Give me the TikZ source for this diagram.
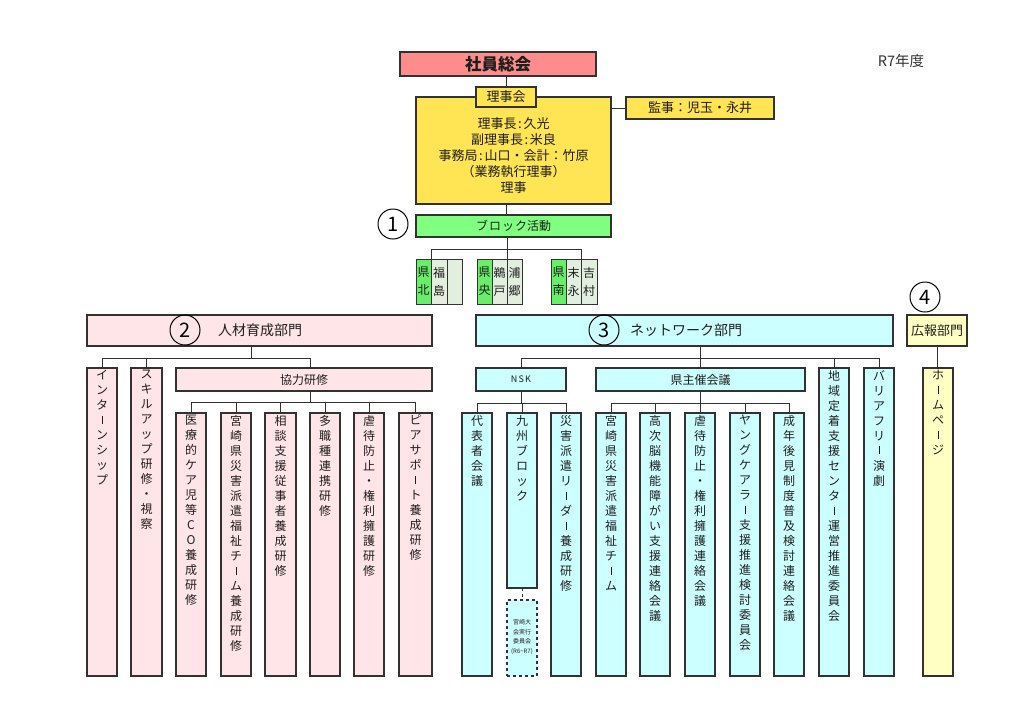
\documentclass[tikz,border=0pt]{standalone}
\usepackage{fontspec}
\setmainfont{Noto Sans CJK JP}
\usetikzlibrary{calc}
\definecolor{cTitle}{RGB}{255,140,140}
\definecolor{cYel}{RGB}{255,228,84}
\definecolor{cGrn}{RGB}{128,255,128}
\definecolor{cBG}{RGB}{104,238,104}
\definecolor{cBL}{RGB}{226,238,222}
\definecolor{cPink}{RGB}{255,228,232}
\definecolor{cCyan}{RGB}{204,255,255}
\definecolor{cLY}{RGB}{255,255,196}
\definecolor{cLine}{RGB}{50,50,50}
\definecolor{cTxt}{RGB}{30,30,30}
\long\def\VTgobble#1{}
\long\def\VTone#1{#1}
\def\VT#1{\VTfirst#1\relax}
\def\VTfirst#1{#1\VTrest}
\def\VTrest#1{\ifx\relax#1\expandafter\VTgobble\else\expandafter\VTone\fi{\\#1\VTrest}}
\newcommand\VL{\rule[0.6pt]{0.8pt}{8pt}}
\newcommand\CLN{\hspace{0.13em}:\hspace{0.13em}}
\tikzset{
  bx/.style={draw=cLine, line width=1.2pt, inner sep=0pt, outer sep=0pt, rectangle, text=cTxt},
  conn/.style={draw=cLine, line width=1pt},
  vtxt/.style={inner sep=0pt, align=center, font=\fontsize{12}{15}\selectfont, text=cTxt},
  circ/.style={draw=black, line width=1pt, circle, minimum size=30pt, inner sep=0pt, font=\fontsize{20}{20}\selectfont},
  fnt12/.style={font=\fontsize{12}{12}\selectfont},
  fnt13/.style={font=\fontsize{13}{13}\selectfont},
  fnt14/.style={font=\fontsize{14}{14}\selectfont},
  blk/.style={bx, line width=1pt, align=center, font=\fontsize{12}{18}\selectfont},
}
\newcommand\HBox[7]{\node[bx,#6,minimum width={#3-#2},minimum height={#5-#4},anchor=north west] (#1) at (#2,#4) {#7};}
\newcommand\VBox[7]{\node[bx,#6,minimum width={#3-#2},minimum height={#5-#4},anchor=north west] (#1) at (#2,#4) {};
  \node[vtxt,anchor=north] (#1t) at ([yshift=-2pt]#1.north) {\VT{#7}};}
\begin{document}
\begin{tikzpicture}[x=1pt,y=-1pt]
\fill[white] (0,0) rectangle (1024,724);
\useasboundingbox (0,0) rectangle (1024,724);

\node[font=\fontsize{14.5}{14.5}\selectfont, text=black!80] (year) at (901,61) {R7年度};

% top
\HBox{soin}{400}{596}{52}{76}{fill=cTitle, font=\bfseries\fontsize{16.5}{16.5}\selectfont}{社員総会}
\HBox{riji}{416}{611}{97}{204}{fill=cYel}{}
\node[align=center, font=\fontsize{13}{15.8}\selectfont, text=cTxt] (rijit) at (513.5,155.5) {理事長\CLN 久光\\副理事長\CLN 米良\\事務局\CLN 山口・会計：竹原\\（業務執行理事）\\理事};
\HBox{rijikai}{476}{536}{87}{107}{fill=cYel, fnt13}{理事会}
\HBox{kanji}{626}{774}{97}{119}{fill=cYel, fnt13}{監事：児玉・永井}
\draw[conn] (soin.south -| rijikai.north) -- (rijikai.north);
\draw[conn] (riji.east |- kanji.west) -- (kanji.west);

% block
\node[circ] (c1) at (393,224) {1};
\HBox{block}{416}{611}{215}{237}{fill=cGrn, fnt12}{ブ\hspace{1pt}ロ\hspace{1pt}ッ\hspace{1pt}ク活動}
\draw[conn] (riji.south -| rijikai.north) -- (block.north -| rijikai.north);
\HBox{g1a}{416}{431}{259}{304}{blk, fill=cBG}{県\\北}
\HBox{g1b}{431}{447}{259}{304}{blk, fill=cBL}{福\\島}
\HBox{g1c}{447}{462}{259}{304}{blk, fill=cBL}{}
\HBox{g2a}{477}{492}{259}{304}{blk, fill=cBG}{県\\央}
\HBox{g2b}{492}{507}{259}{304}{blk, fill=cBL}{鵜\\戸}
\HBox{g2c}{507}{522}{259}{304}{blk, fill=cBL}{浦\\郷}
\HBox{g3a}{551}{566}{259}{304}{blk, fill=cBG}{県\\南}
\HBox{g3b}{566}{581}{259}{304}{blk, fill=cBL}{末\\永}
\HBox{g3c}{581}{597}{259}{304}{blk, fill=cBL}{吉\\村}
\coordinate (bb) at (507,249);
\draw[conn] (block.south -| bb) -- (bb);
\draw[conn] (bb) -| (g1a.north east);
\draw[conn] (bb) -- (g2b.north east);
\draw[conn] (bb) -| (g3b.north east);

% departments
\HBox{d2}{87}{432}{315}{346}{fill=cPink}{}
\node[fnt14, text=cTxt] (d2t) at (260,330) {人材育成部門};
\node[circ] (c2) at (185,330) {2};
\HBox{d3}{476}{893}{315}{346}{fill=cCyan}{}
\node[fnt14, text=cTxt] (d3t) at (686,330) {ネットワーク部門};
\node[circ] (c3) at (604,330) {3};
\HBox{d4}{907}{967}{315}{346}{fill=cLY, fnt13}{広報部門}
\node[circ] (c4) at (925,297) {4};

% left tree
\VBox{intern}{87}{117}{368}{676}{fill=cPink}{インタ\VL ンシップ}
\VBox{skill}{131}{162}{368}{676}{fill=cPink}{スキルアップ研修・視察}
\HBox{kyo}{176}{432}{368}{391}{fill=cPink, fnt12}{協力研修}
\coordinate (b2) at (251,358);
\coordinate (kyoTop) at (310,368);
\draw[conn] (d2.south -| b2) -- (b2);
\draw[conn] (b2) -| (intern.north);
\draw[conn] (b2) -| (skill.north);
\draw[conn] (b2) -| (kyoTop);
\VBox{k1}{176}{206}{413}{676}{fill=cPink}{医療的ケア児等CO養成研修}
\VBox{k2}{221}{251}{413}{676}{fill=cPink}{宮崎県災害派遣福祉チ\VL ム養成研修}
\VBox{k3}{265}{296}{413}{676}{fill=cPink}{相談支援従事者養成研修}
\VBox{k4}{310}{340}{413}{676}{fill=cPink}{多職種連携研修}
\VBox{k5}{354}{384}{413}{676}{fill=cPink}{虐待防止・権利擁護研修}
\VBox{k6}{399}{432}{413}{676}{fill=cPink}{ピアサポ\VL ト養成研修}
\coordinate (bk2) at (310,402);
\draw[conn] (kyo.south -| bk2) -- (bk2);
\foreach \n in {k1,k2,k3,k4,k5,k6}{\draw[conn] (bk2) -| (\n.north);}

% right tree
\HBox{nsk}{476}{566}{368}{391}{fill=cCyan, font=\fontsize{9}{9}\selectfont}{N\hspace{1.2pt}S\hspace{1.2pt}K}
\HBox{ken}{596}{805}{368}{391}{fill=cCyan, fnt12}{県主催会議}
\VBox{chiiki}{819}{849}{368}{676}{fill=cCyan}{地域定着支援センタ\VL 運営推進委員会}
\VBox{bari}{864}{894}{368}{676}{fill=cCyan}{バリアフリ\VL 演劇}
\VBox{hp}{923}{953}{368}{676}{fill=cLY}{ホ\VL ムペ\VL ジ}
\coordinate (b3) at (700,358);
\draw[conn] (d3.south -| b3) -- (b3);
\draw[conn] (b3) -| (nsk.north);
\draw[conn] (b3) -- (ken.north -| b3);
\draw[conn] (b3) -| (chiiki.north);
\draw[conn] (b3) -| (bari.north);
\draw[conn] (d4.south) -- (d4.south |- hp.north);

\VBox{n1}{462}{492}{413}{676}{fill=cCyan}{代表者会議}
\VBox{n2}{507}{537}{413}{588}{fill=cCyan}{九州ブロック}
\VBox{n3}{551}{581}{413}{676}{fill=cCyan}{災害派遣リ\VL ダ\VL 養成研修}
\node[bx, dashed, fill=cCyan, minimum width=30, minimum height=76, anchor=north west] (nd) at (507,600) {};
\node[align=center, font=\fontsize{6}{9.5}\selectfont, text=cTxt] (ndt) at (522,637) {宮崎大\\会実行\\委員会\\(R6\textasciitilde R7)};
\coordinate (bn) at (521,403);
\draw[conn] (nsk.south -| bn) -- (bn);
\foreach \n in {n1,n2,n3}{\draw[conn] (bn) -| (\n.north);}
\draw[conn, dashed] (n2.south) -- (nd.north);

\VBox{m1}{596}{626}{413}{676}{fill=cCyan}{宮崎県災害派遣福祉チ\VL ム}
\VBox{m2}{640}{670}{413}{676}{fill=cCyan}{高次脳機能障がい支援連絡会議}
\VBox{m3}{685}{715}{413}{676}{fill=cCyan}{虐待防止・権利擁護連絡会議}
\VBox{m4}{730}{760}{413}{676}{fill=cCyan}{ヤングケアラ\VL 支援推進検討委員会}
\VBox{m5}{774}{804}{413}{676}{fill=cCyan}{成年後見制度普及検討連絡会議}
\coordinate (bk) at (700,403);
\draw[conn] (ken.south -| bk) -- (bk);
\foreach \n in {m1,m2,m3,m4,m5}{\draw[conn] (bk) -| (\n.north);}
\end{tikzpicture}
\end{document}
